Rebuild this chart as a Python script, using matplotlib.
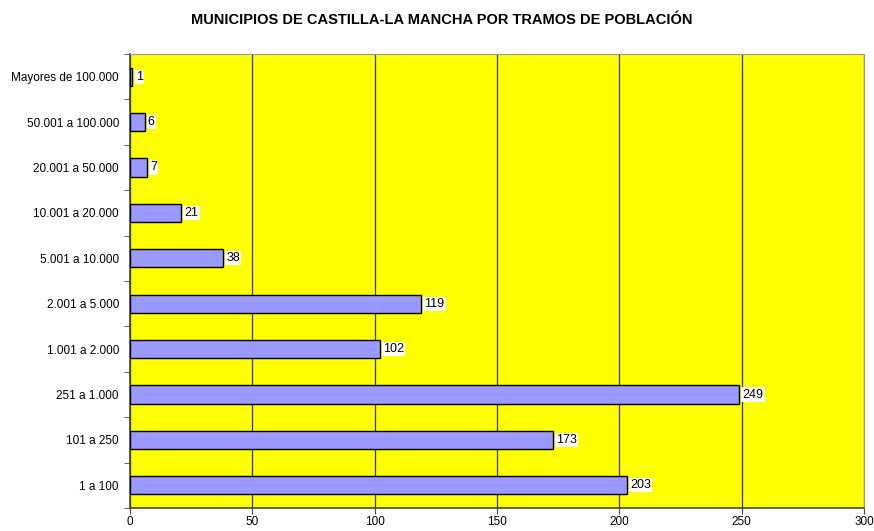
import numpy as np
import matplotlib.pyplot as plt

plt.rcParams['font.family'] = ['Liberation Sans', 'DejaVu Sans']

# Data
tramos = ["Mayores de 100.000", "50.001 a 100.000", "20.001 a 50.000",
          "10.001 a 20.000", "5.001 a 10.000", "2.001 a 5.000",
          "1.001 a 2.000", "251 a 1.000", "101 a 250", "1 a 100"]
municipios = [1, 6, 7, 21, 38, 119, 102, 249, 173, 203]
x_ticks = [0, 50, 100, 150, 200, 250, 300]

fig = plt.figure(figsize=(8.74, 5.31), dpi=100)
ax = fig.add_axes([130 / 874, 1 - 508 / 531, 734 / 874, 454 / 531])
ax.set_facecolor('#FFFF00')

y = np.arange(len(tramos))[::-1]
ax.barh(y, municipios, height=0.4, color='#9999FF', edgecolor='black',
        linewidth=1, zorder=3)

for yi, v in zip(y, municipios):
    ax.text(v + 1.3, yi, str(v), va='center', ha='left', fontsize=9,
            zorder=4, bbox=dict(facecolor='white', edgecolor='none', pad=0.8))

ax.set_xlim(0, 300)
ax.set_ylim(-0.5, len(tramos) - 0.5)
ax.set_xticks(x_ticks)
ax.set_xticklabels([str(t) for t in x_ticks], fontsize=8.5)
ax.set_yticks(y)
ax.set_yticklabels(tramos, fontsize=8.5)
ax.set_yticks(np.arange(len(tramos) + 1) - 0.5, minor=True)
ax.tick_params(axis='y', which='major', length=0, pad=8)
ax.tick_params(axis='y', which='minor', length=4, color='#444444')
ax.tick_params(axis='x', length=4, color='#444444', pad=2)

ax.xaxis.grid(True, color='#333333', linewidth=0.9, zorder=1)
ax.set_axisbelow(True)

for side in ['top', 'right']:
    ax.spines[side].set_color('#999999')
for side in ['left', 'bottom']:
    ax.spines[side].set_color('#444444')
    ax.spines[side].set_linewidth(1.2)

fig.text(442 / 874, 1 - 20 / 531, "MUNICIPIOS DE CASTILLA-LA MANCHA POR TRAMOS DE POBLACIÓN",
         ha='center', va='center', fontsize=10.5, fontweight='bold')

fig.savefig('out.png', dpi=100)
